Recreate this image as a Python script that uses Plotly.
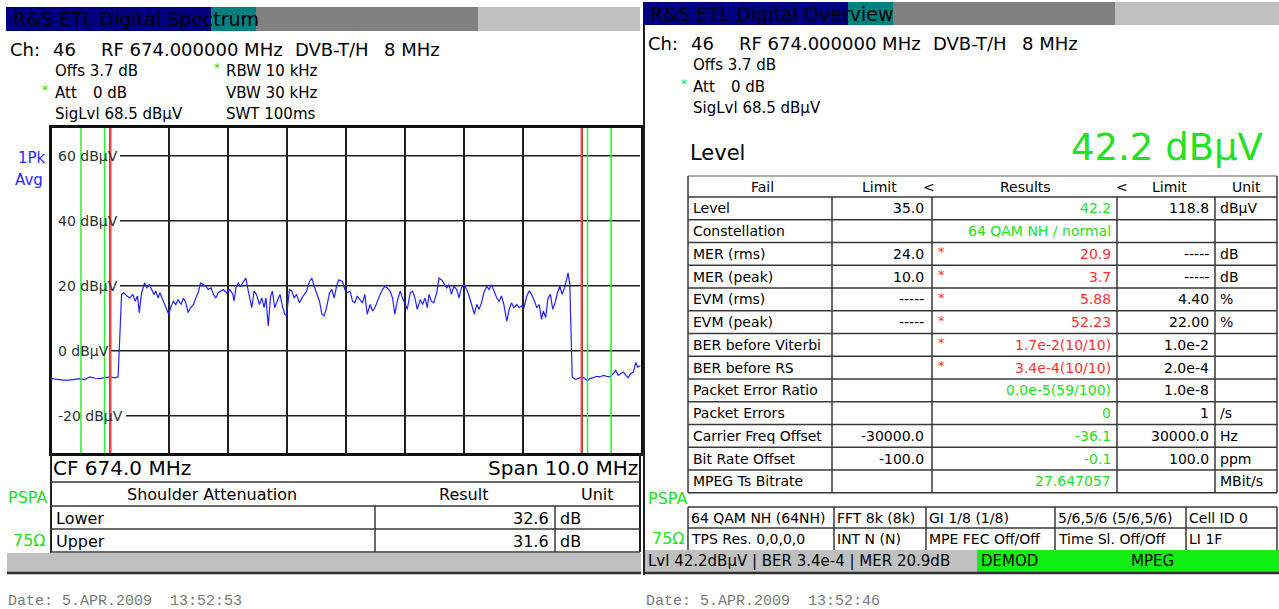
import plotly.graph_objects as go

W, H = 1279, 609
FONT = "DejaVu Sans"
MONO = "Liberation Mono"
GREEN = "#22e022"
RED = "#ff3030"
BLUE = "#2a2aff"

# spectrum trace, CF 674 MHz, span 10 MHz
freq_mhz = [
    669.00, 669.10, 669.20, 669.31, 669.40, 669.48, 669.56, 669.65, 669.74,
    669.82, 669.90, 669.99, 670.07, 670.13, 670.19, 670.23, 670.28, 670.33,
    670.38, 670.42, 670.46, 670.49, 670.53, 670.58, 670.62, 670.66, 670.70,
    670.74, 670.77, 670.81, 670.84, 670.90, 670.94, 670.99, 671.03, 671.07,
    671.11, 671.15, 671.20, 671.24, 671.28, 671.32, 671.36, 671.41, 671.45,
    671.49, 671.53, 671.58, 671.62, 671.66, 671.71, 671.75, 671.79, 671.83,
    671.87, 671.92, 671.97, 672.03, 672.08, 672.10, 672.13, 672.17, 672.21,
    672.26, 672.30, 672.33, 672.37, 672.40, 672.44, 672.48, 672.53, 672.57,
    672.61, 672.64, 672.68, 672.72, 672.75, 672.79, 672.83, 672.88, 672.92,
    672.96, 672.99, 673.04, 673.08, 673.12, 673.16, 673.21, 673.25, 673.29,
    673.33, 673.38, 673.42, 673.46, 673.50, 673.55, 673.59, 673.63, 673.67,
    673.72, 673.76, 673.80, 673.84, 673.88, 673.94, 673.98, 674.02, 674.07,
    674.11, 674.15, 674.19, 674.24, 674.28, 674.32, 674.36, 674.41, 674.45,
    674.49, 674.53, 674.58, 674.62, 674.66, 674.70, 674.75, 674.79, 674.83,
    674.87, 674.92, 674.96, 675.00, 675.04, 675.09, 675.13, 675.17, 675.21,
    675.26, 675.30, 675.34, 675.38, 675.41, 675.45, 675.49, 675.54, 675.58,
    675.62, 675.66, 675.71, 675.75, 675.79, 675.83, 675.88, 675.92, 675.96,
    676.00, 676.05, 676.09, 676.13, 676.18, 676.22, 676.26, 676.30, 676.34,
    676.39, 676.43, 676.47, 676.51, 676.56, 676.60, 676.64, 676.68, 676.73,
    676.77, 676.81, 676.85, 676.90, 676.94, 676.98, 677.02, 677.07, 677.11,
    677.15, 677.19, 677.24, 677.28, 677.32, 677.35, 677.39, 677.43, 677.47,
    677.51, 677.55, 677.59, 677.63, 677.67, 677.71, 677.75, 677.77, 677.80,
    677.82, 677.84, 677.89, 677.94, 678.00, 678.06, 678.10, 678.14, 678.20,
    678.26, 678.31, 678.37, 678.43, 678.48, 678.54, 678.58, 678.62, 678.67,
    678.71, 678.75, 678.79, 678.83, 678.88, 678.92, 678.95, 679.00,
]
level_dbuv = [
    -8.6, -8.9, -9.1, -9.1, -8.8, -8.6, -8.9, -8.1, -8.5,
    -8.6, -8.3, -8.1, -8.4, -8.1, 17.3, 17.8, 16.8, 16.2,
    17.3, 15.2, 16.8, 11.7, 17.8, 20.8, 19.3, 20.3, 18.8,
    17.3, 18.3, 16.2, 17.8, 15.2, 13.2, 11.2, 13.7, 15.2,
    14.2, 15.7, 14.2, 16.2, 14.7, 11.7, 13.2, 14.2, 16.2,
    17.8, 20.8, 20.3, 19.8, 18.8, 19.3, 17.3, 16.2, 17.8,
    18.3, 18.8, 17.8, 18.8, 17.3, 15.2, 19.3, 20.8, 19.8,
    21.3, 22.3, 19.3, 16.2, 13.2, 18.3, 17.3, 14.2, 16.2,
    13.2, 16.2, 7.6, 16.8, 18.3, 13.2, 15.2, 17.3, 13.7,
    11.2, 10.7, 18.8, 18.3, 16.2, 17.3, 14.7, 16.2, 17.3,
    18.3, 21.3, 22.3, 19.8, 17.8, 15.2, 11.2, 10.7, 13.2,
    17.8, 18.8, 16.2, 19.8, 21.8, 21.3, 18.8, 17.8, 18.3,
    15.2, 14.7, 16.8, 15.7, 14.7, 17.3, 11.2, 14.2, 12.2,
    13.2, 15.2, 17.3, 18.8, 19.8, 19.3, 18.3, 16.2, 11.2,
    15.2, 18.3, 16.2, 14.2, 12.7, 17.8, 18.3, 16.2, 12.7,
    15.7, 14.2, 16.2, 13.2, 17.3, 15.2, 14.7, 17.8, 22.3,
    21.8, 20.8, 19.3, 20.3, 17.3, 19.8, 18.8, 16.2, 19.3,
    20.3, 18.8, 16.8, 14.2, 11.2, 14.2, 12.7, 14.7, 17.8,
    19.8, 18.8, 20.3, 18.3, 16.2, 15.2, 16.8, 14.2, 9.1,
    12.7, 14.7, 13.2, 14.2, 13.2, 13.7, 13.2, 16.8, 18.3,
    17.3, 15.7, 13.2, 14.2, 9.6, 12.2, 10.2, 16.2, 17.3,
    12.7, 14.7, 17.8, 19.8, 17.3, 19.3, 22.3, 23.9, 20.3,
    7.1, -8.1, -8.8, -8.6, -8.1, -8.6, -9.3, -8.6, -8.3,
    -7.9, -8.1, -7.6, -7.9, -8.1, -7.1, -6.1, -7.6, -7.1,
    -6.6, -7.6, -8.3, -7.1, -6.6, -3.6, -5.1, -4.6,
]
green_limit_mhz = [669.5, 669.9, 678.1, 678.5]
red_limit_mhz = [670.0, 678.0]
level_ticks = [60, 40, 20, 0, -20]

shoulder_names = ["Lower", "Upper"]
shoulder_results = ["32.6", "31.6"]
shoulder_units = ["dB", "dB"]

ov_names = ["Level", "Constellation", "MER (rms)", "MER (peak)", "EVM (rms)",
            "EVM (peak)", "BER before Viterbi", "BER before RS",
            "Packet Error Ratio", "Packet Errors", "Carrier Freq Offset",
            "Bit Rate Offset", "MPEG Ts Bitrate"]
ov_lower = ["35.0", "", "24.0", "10.0", "-----", "-----", "", "", "", "",
            "-30000.0", "-100.0", ""]
ov_results = ["42.2", "64 QAM NH / normal", "20.9", "3.7", "5.88", "52.23",
              "1.7e-2(10/10)", "3.4e-4(10/10)", "0.0e-5(59/100)", "0",
              "-36.1", "-0.1", "27.647057"]
ov_failed = [False, False, True, True, True, True, True, True, False, False,
             False, False, False]
ov_upper = ["118.8", "", "-----", "-----", "4.40", "22.00", "1.0e-2",
            "2.0e-4", "1.0e-8", "1", "30000.0", "100.0", ""]
ov_units = ["dBµV", "", "dB", "dB", "%", "%", "", "", "", "/s", "Hz", "ppm",
            "MBit/s"]

tps_row1 = ["64 QAM NH (64NH)", "FFT 8k (8k)", "GI 1/8 (1/8)",
            "5/6,5/6 (5/6,5/6)", "Cell ID 0"]
tps_row2 = ["TPS Res. 0,0,0,0", "INT N (N)", "MPE FEC Off/Off",
            "Time Sl. Off/Off", "LI 1F"]


def px(x):
    return x / W


def py(y):
    return 1 - y / H


annotations = []
shapes = []


def text(x, y, s, size=15, color="black", anchor="left", family=FONT):
    annotations.append(dict(
        x=px(x), y=py(y), xref="paper", yref="paper", text=s,
        showarrow=False, xanchor=anchor, yanchor="middle",
        font=dict(size=size, color=color, family=family),
    ))


def rect(x0, y0, x1, y1, fill):
    shapes.append(dict(
        type="rect", xref="paper", yref="paper",
        x0=px(x0), x1=px(x1), y0=py(y1), y1=py(y0),
        fillcolor=fill, line=dict(width=0), layer="below",
    ))


def seg(x0, y0, x1, y1, color="#383838", width=1.5):
    shapes.append(dict(
        type="line", xref="paper", yref="paper",
        x0=px(x0), x1=px(x1), y0=py(y0), y1=py(y1),
        line=dict(color=color, width=width),
    ))


def title_bar(x, y0, y1, label, right):
    rect(x, y0, x + 205, y1, "#000080")
    rect(x + 205, y0, x + 250, y1, "#008080")
    rect(x + 250, y0, x + 472, y1, "#808080")
    rect(x + 472, y0, right, y1, "#c0c0c0")
    text(x + 5, (y0 + y1) / 2, label, size=19, color="#000000")


def channel_header(x, y, star_att, rbw=True):
    text(x, y, "Ch:", 18)
    text(x + 43, y, "46", 18)
    text(x + 91, y, "RF 674.000000 MHz", 18)
    text(x + 285, y, "DVB-T/H", 18)
    text(x + 374, y, "8 MHz", 18)
    text(x + 45, y + 22, "Offs 3.7 dB")
    text(star_att, y + 41, "*", 12, GREEN)
    text(x + 45, y + 44, "Att")
    text(x + 83, y + 44, "0 dB")
    text(x + 45, y + 65, "SigLvl 68.5 dBµV")
    if rbw:
        text(x + 204, y + 19, "*", 12, GREEN)
        text(x + 216, y + 22, "RBW 10 kHz")
        text(x + 216, y + 44, "VBW 30 kHz")
        text(x + 216, y + 65, "SWT 100ms")


# ---- left: digital spectrum ----
title_bar(6, 7, 31, "R&S ETL Digital Spectrum", 640)
channel_header(8, 49, 40)
text(16, 158, "1Pk", 15, BLUE)
text(13, 180, "Avg", 15, BLUE)

label_end = {60: 120, 40: 120, 20: 120, 0: 111, -20: 126}
for v in level_ticks:
    annotations.append(dict(
        x=px(56), y=v, xref="paper", yref="y", text=f"{v} dBµV",
        showarrow=False, xanchor="left", yanchor="middle",
        font=dict(size=14, color="#303030", family=FONT),
    ))
    shapes.append(dict(
        type="line", xref="paper", yref="y", x0=px(label_end[v]),
        x1=px(640), y0=v, y1=v, line=dict(color="#202020", width=1.5),
        layer="below",
    ))

for f in green_limit_mhz:
    shapes.append(dict(type="line", xref="x", yref="y domain", x0=f, x1=f,
                       y0=0, y1=1, line=dict(color="#33ee33", width=1.5)))
for f in red_limit_mhz:
    shapes.append(dict(type="line", xref="x", yref="y domain", x0=f, x1=f,
                       y0=0, y1=1, line=dict(color="#ff4a4a", width=2.2)))

text(51, 468, "CF 674.0 MHz", 20)
text(640, 468, "Span 10.0 MHz", 20, anchor="right")
seg(51, 453, 51, 552, "#202020", 2)
seg(640, 453, 640, 552, "#202020", 2)

# shoulder attenuation table
seg(50, 482, 640, 482)
for y in (506, 529, 552):
    seg(50, y, 640, y)
for x in (375, 555):
    seg(x, 506, x, 552)
text(212, 494, "Shoulder Attenuation", 16, anchor="center")
text(464, 494, "Result", 16, anchor="center")
text(597, 494, "Unit", 16, anchor="center")
for i, name in enumerate(shoulder_names):
    yc = 518 + 23 * i
    text(54, yc, name, 16)
    text(551, yc, shoulder_results[i], 16, anchor="right")
    text(558, yc, shoulder_units[i], 16)
text(6, 497, "PSPA", 16, GREEN)
text(11, 540, "75Ω", 16, GREEN)
rect(7, 553, 641, 572, "#c0c0c0")
seg(7, 573, 641, 573, "#303030", 2.5)
text(6, 601, "Date: 5.APR.2009  13:52:53", 15, "#7a7a7a", family=MONO)

# ---- right: digital overview ----
title_bar(643, 2, 25, "R&S ETL Digital Overview", 1279)
seg(644, 25, 644, 575, "#202020", 2)
channel_header(646, 43, 679, rbw=False)
text(688, 153, "Level", 21)
text(1265, 147, "42.2 dBµV", 37, GREEN, anchor="right")

tx = [688, 832, 932, 1117, 1215, 1277]
top, head_bot, row_h = 176, 197, 22.75
bottom = head_bot + row_h * len(ov_names)
seg(tx[0], top, tx[-1], top, "#909090", 1.5)
for i in range(len(ov_names) + 1):
    y = head_bot + row_h * i
    seg(tx[0], y, tx[-1], y)
seg(tx[0], top, tx[0], bottom)
seg(tx[-1], top, tx[-1], bottom)
for x in tx[1:-1]:
    seg(x, head_bot, x, bottom)
hy = (top + head_bot) / 2
text(762, hy, "Fail", 14, anchor="center")
text(879, hy, "Limit", 14, anchor="center")
text(929, hy, "<", 14, anchor="center")
text(1025, hy, "Results", 14, anchor="center")
text(1122, hy, "<", 14, anchor="center")
text(1169, hy, "Limit", 14, anchor="center")
text(1246, hy, "Unit", 14, anchor="center")
for i, name in enumerate(ov_names):
    yc = head_bot + row_h * (i + 0.5)
    text(691, yc, name, 14)
    text(926, yc, ov_lower[i], 14, anchor="right")
    if ov_failed[i]:
        text(936, yc - 2, "*", 13, RED)
    text(1113, yc, ov_results[i], 14, RED if ov_failed[i] else GREEN,
         anchor="right")
    text(1211, yc, ov_upper[i], 14, anchor="right")
    text(1218, yc, ov_units[i], 14)

text(646, 498, "PSPA", 16, GREEN)
text(650, 538, "75Ω", 16, GREEN)
gx = [688, 834, 926, 1055, 1186, 1277]
for y in (507, 528):
    seg(gx[0], y, gx[-1], y)
for x in gx:
    seg(x, 507, x, 550)
for j in range(5):
    text(gx[j] + 1, 518, tps_row1[j], 14)
    text(gx[j] + 1, 539, tps_row2[j], 14)

rect(645, 550, 977, 572, "#c0c0c0")
rect(977, 550, 1279, 572, "#11ee11")
seg(645, 573, 1279, 573, "#303030", 2.5)
text(646, 561, "Lvl 42.2dBµV | BER 3.4e-4 | MER 20.9dB", 15)
text(979, 561, "DEMOD", 15)
text(1152, 561, "MPEG", 15, anchor="center")
text(644, 601, "Date: 5.APR.2009  13:52:46", 15, "#7a7a7a", family=MONO)

fig = go.Figure()
fig.add_trace(go.Scatter(
    x=freq_mhz, y=level_dbuv, mode="lines",
    line=dict(color="#2222ff", width=1.2), hoverinfo="skip",
))
fig.update_layout(
    width=W, height=H, margin=dict(l=0, r=0, t=0, b=0, pad=0),
    paper_bgcolor="white", plot_bgcolor="white", showlegend=False,
    xaxis=dict(domain=[px(51.5), px(640.5)], range=[669, 679], tick0=669,
               dtick=1, showgrid=True, gridcolor="#202020", gridwidth=1.5,
               showticklabels=False, ticks="", zeroline=False, showline=True,
               mirror=True, linecolor="#101010", linewidth=2.5),
    yaxis=dict(domain=[py(453), py(128)], range=[-31.5, 68.5],
               showgrid=False, showticklabels=False, ticks="",
               zeroline=False, showline=True, mirror=True,
               linecolor="#101010", linewidth=2.5),
    annotations=annotations, shapes=shapes,
)
# the browser's default 8px body margin would shift the whole screen
fig.write_html("out.html", config={"displayModeBar": False},
               post_script="document.body.style.margin = '0';")
